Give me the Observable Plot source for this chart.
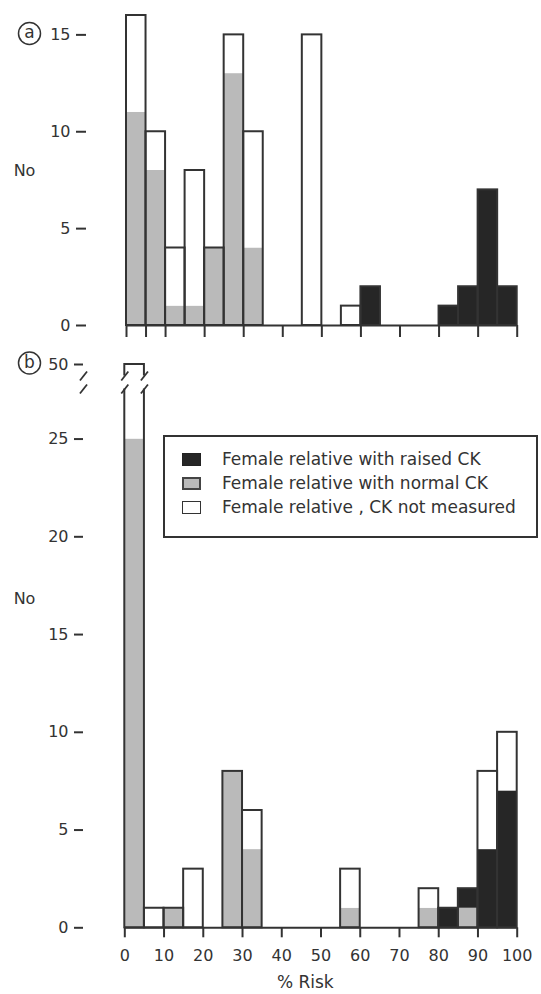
<!DOCTYPE html>
<html>
<head>
<meta charset="utf-8">
<script src="https://cdn.jsdelivr.net/npm/d3@7"></script>
<script src="https://cdn.jsdelivr.net/npm/@observablehq/plot@0.6"></script>
<style>
  body { margin: 0; background: #fff; }
  #wrap { position: relative; width: 541px; height: 994px; overflow: hidden; }
  #wrap svg { display: block; }
  .legend { position: absolute; left: 163px; top: 435px; width: 371px; height: 99px;
    border: 2px solid #333; background: #fff; font-family: "DejaVu Sans"; font-size: 17px; color: #333; }
  .legend .row { position: absolute; left: 17px; height: 24px; display: flex; align-items: center; }
  .legend .sw { width: 19px; height: 13px; box-sizing: border-box; margin-right: 21px; }
</style>
</head>
<body>
<div id="wrap"></div>
<script>
// ---- data ----
const binStart = [0, 5, 10, 15, 20, 25, 30, 35, 40, 45, 50, 55, 60, 65, 70, 75, 80, 85, 90, 95];
const binWidth = 5;
const categories = ["Female relative with normal CK", "Female relative with raised CK", "Female relative , CK not measured"];
const legendOrder = ["Female relative with raised CK", "Female relative with normal CK", "Female relative , CK not measured"];
const catColors = ["#bababa", "#262626", "#ffffff"];

// panel (a)
const aNormal      = [11, 8, 1, 1, 4, 13, 4, 0, 0, 0, 0, 0, 0, 0, 0, 0, 0, 0, 0, 0];
const aRaised      = [0, 0, 0, 0, 0, 0, 0, 0, 0, 0, 0, 0, 2, 0, 0, 0, 1, 2, 7, 2];
const aNotMeasured = [5, 2, 3, 7, 0, 2, 6, 0, 0, 15, 0, 1, 0, 0, 0, 0, 0, 0, 0, 0];

// panel (b)
const bNormal      = [25, 0, 1, 0, 0, 8, 4, 0, 0, 0, 0, 1, 0, 0, 0, 1, 0, 1, 0, 0];
const bRaised      = [0, 0, 0, 0, 0, 0, 0, 0, 0, 0, 0, 0, 0, 0, 0, 0, 1, 1, 4, 7];
const bNotMeasured = [25, 1, 0, 3, 0, 0, 2, 0, 0, 0, 0, 2, 0, 0, 0, 1, 0, 0, 4, 3];

const aYTicks = [0, 5, 10, 15];
const bYTicks = [0, 5, 10, 15, 20, 25];
const bYTicksAboveBreak = [50];
const aXTicks = [0, 5, 10, 20, 30, 40, 50, 60, 70, 80, 90, 100];
const bXTicks = [0, 10, 20, 30, 40, 50, 60, 70, 80, 90, 100];

// axis break in panel (b): values above breakAt are compressed
const breakAt = 27.5;
const breakSqueeze = 0.0584;
const squeeze = v => v <= breakAt ? v : breakAt + (v - breakAt) * breakSqueeze;

// ---- helpers ----
function stackRows(normal, raised, notMeasured) {
  const rows = [];
  binStart.forEach((x, i) => {
    [normal[i], raised[i], notMeasured[i]].forEach((v, k) =>
      rows.push({x1: x, x2: x + binWidth, cat: categories[k], n: v}));
  });
  return rows;
}
function totalRows(normal, raised, notMeasured) {
  return binStart.map((x, i) => ({x1: x, x2: x + binWidth, total: normal[i] + raised[i] + notMeasured[i]}))
    .filter(d => d.total > 0);
}

const ink = "#333";
const style = {fontFamily: "DejaVu Sans", fontSize: "16px", color: ink, background: "#fff", overflow: "visible"};
const color = {domain: categories, range: catColors};

function barMarks(normal, raised, notMeasured) {
  return [
    Plot.rectY(stackRows(normal, raised, notMeasured), {x1: "x1", x2: "x2", y: "n", fill: "cat", order: categories}),
    Plot.rectY(totalRows(normal, raised, notMeasured), {x1: "x1", x2: "x2", y: "total", fill: "none", stroke: ink, strokeWidth: 2}),
    Plot.ruleY([0], {x1: 0, x2: 100, stroke: ink, strokeWidth: 2})
  ];
}
const mid = {textAnchor: "middle", lineAnchor: "middle"};

// ---- panel a ----
const plotA = Plot.plot({
  width: 541, height: 340,
  marginTop: 15, marginBottom: 15, marginLeft: 86, marginRight: 24.3,
  x: {domain: [0, 100], insetLeft: 40, label: null},
  y: {domain: [0, 16], label: null},
  color, style,
  marks: [
    ...barMarks(aNormal, aRaised, aNotMeasured),
    Plot.axisY({ticks: aYTicks, tickSize: 10, tickPadding: 6, line: true, label: null, stroke: ink, strokeWidth: 2, fill: ink, fontSize: 16}),
    Plot.axisX({ticks: aXTicks, tickSize: 12, tickFormat: () => "", label: null, stroke: ink, strokeWidth: 2}),
    Plot.text(["No"], {y: 8, frameAnchor: "left", dx: -62, fill: ink, fontSize: 16, ...mid}),
    Plot.dot(["a"], {frameAnchor: "top-left", dx: -57, dy: 18, r: 11, stroke: ink, strokeWidth: 1.5, fill: "none"}),
    Plot.text(["a"], {frameAnchor: "top-left", dx: -57, dy: 17, fill: ink, fontSize: 17, ...mid})
  ]
});

// ---- panel b (broken axis) ----
const breakLo = 28.55, breakHi = 39.9;
const slashes = [0, 5].flatMap(x => [
  {x1: x + 0.9, x2: x - 0.9, y1: 43.9, y2: 36.0},
  {x1: x + 0.9, x2: x - 0.9, y1: 32.5, y2: 27.33}
]);
const axisSlashes = [
  {x1: 0.9, x2: -0.9, y1: 43.9, y2: 36.0},
  {x1: 0.9, x2: -0.9, y1: 32.5, y2: 27.33}
];
const axisShift = -41.3; // y axis sits left of the x=0 edge (scale inset)

const plotB = Plot.plot({
  width: 541, height: 654,
  marginTop: 24, marginBottom: 66.7, marginLeft: 83, marginRight: 24.3,
  x: {domain: [0, 100], insetLeft: 41.3, label: null},
  y: {domain: [0, squeeze(50)], transform: squeeze, label: null},
  color, style,
  marks: [
    ...barMarks(bNormal, bRaised, bNotMeasured),
    Plot.axisY({ticks: bYTicks, tickSize: 9, tickPadding: 6, line: true, label: null, stroke: ink, strokeWidth: 2, fill: ink, fontSize: 16}),
    Plot.ruleY(bYTicksAboveBreak, {y: d => d, x1: -2.3, x2: 0, dx: axisShift, stroke: ink, strokeWidth: 2}),
    Plot.text(bYTicksAboveBreak, {y: d => d, text: d => String(d), frameAnchor: "left", dx: -15, textAnchor: "end", lineAnchor: "middle", fill: ink, fontSize: 16}),
    Plot.rect([0], {y1: breakLo, y2: breakHi, fill: "#fff", insetLeft: -8}),
    Plot.link(slashes, {x1: "x1", x2: "x2", y1: "y1", y2: "y2", stroke: ink, strokeWidth: 1.8}),
    Plot.link(axisSlashes, {x1: "x1", x2: "x2", y1: "y1", y2: "y2", dx: axisShift, stroke: ink, strokeWidth: 1.8}),
    Plot.axisX({ticks: bXTicks, tickSize: 10, tickPadding: 12, label: null, stroke: ink, strokeWidth: 2, fill: ink, fontSize: 16}),
    Plot.text(["% Risk"], {x: 46, frameAnchor: "bottom", dy: 55, fill: ink, fontSize: 17, ...mid}),
    Plot.text(["No"], {y: 16.8, frameAnchor: "left", dx: -59, fill: ink, fontSize: 16, ...mid}),
    Plot.dot(["b"], {frameAnchor: "top-left", dx: -54, dy: -1.5, r: 11, stroke: ink, strokeWidth: 1.5, fill: "none"}),
    Plot.text(["b"], {frameAnchor: "top-left", dx: -54, dy: -2, fill: ink, fontSize: 17, ...mid})
  ]
});

const wrap = document.getElementById("wrap");
wrap.appendChild(plotA);
wrap.appendChild(plotB);

// legend
const legend = document.createElement("div");
legend.className = "legend";
const swStyles = {
  "Female relative with raised CK": "background:#262626;border:1px solid #222;",
  "Female relative with normal CK": "background:#bababa;border:2px solid #444;",
  "Female relative , CK not measured": "background:#fff;border:1.5px solid #333;"
};
legendOrder.forEach((c, i) => {
  const row = document.createElement("div");
  row.className = "row";
  row.style.top = (10 + i * 24) + "px";
  const sw = document.createElement("span");
  sw.className = "sw";
  sw.setAttribute("style", swStyles[c]);
  const t = document.createElement("span");
  t.textContent = c;
  row.appendChild(sw);
  row.appendChild(t);
  legend.appendChild(row);
});
wrap.appendChild(legend);
</script>
</body>
</html>
